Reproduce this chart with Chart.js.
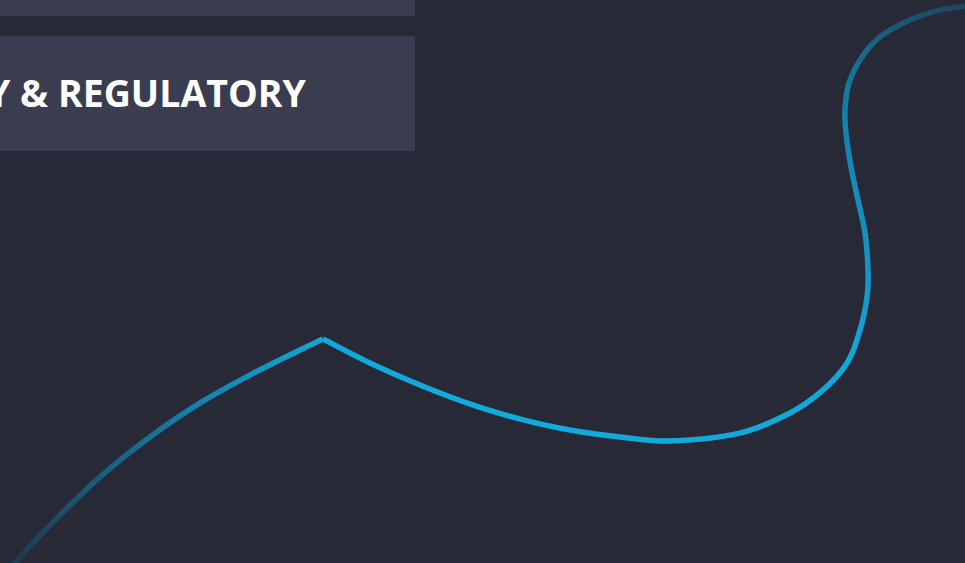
<!DOCTYPE html>
<html>
<head>
<meta charset="utf-8">
<script src="https://cdn.jsdelivr.net/npm/chart.js@4"></script>
<style>
  html, body { margin: 0; padding: 0; background: #272936; overflow: hidden; }
  #wrap { position: relative; width: 965px; height: 563px; }
  #chartBox { position: absolute; left: 0; top: 0; width: 965px; height: 563px; }
  .box { position: absolute; left: 0; width: 415px; background: #3a3c50; }
  #box1 { top: 0; height: 16px; }
  #box2 { top: 36px; height: 115px; }
  #label { position: absolute; right: 659px; top: 74px; white-space: nowrap;
    font-family: "Open Sans", sans-serif; font-weight: 700; font-size: 37.5px;
    line-height: 1; color: #ffffff; }
</style>
</head>
<body>
<div id="wrap">
  <div class="box" id="box1"></div>
  <div class="box" id="box2"></div>
  <div id="label">Y &amp; REGULATORY</div>
  <div id="chartBox"><canvas id="chart"></canvas></div>
</div>
<script>
// Left rising arc (bottom-left to the peak)
const leftX = [12, 50, 100, 150, 200, 250, 300, 323];
const leftY = [566, 525, 477, 437, 403, 375, 350, 339];
// Right wave (peak, valley, then up and curling to the top-right)
const rightX = [323, 370, 420, 470, 520, 570, 620, 670, 740, 790, 823, 847, 860, 867, 868, 865, 858, 851, 846, 845, 849, 862, 880, 910, 940, 966];
const rightY = [339, 363, 385, 404, 419, 430, 437, 441, 433, 413, 390, 363, 330, 297, 270, 233, 200, 167, 133, 110, 83, 57, 37, 20, 10, 6];

const toPts = (xs, ys) => xs.map((x, i) => ({ x: x, y: ys[i] }));

function gradStroke(context) {
  const chart = context.chart;
  const { ctx, chartArea, scales } = chart;
  if (!chartArea) return '#12a8d8';
  const cx = scales.x.getPixelForValue(585);
  const cy = scales.y.getPixelForValue(415);
  const g = ctx.createRadialGradient(cx, cy, 0, cx, cy, 600);
  g.addColorStop(0, 'rgba(18,170,220,1)');
  g.addColorStop(0.45, 'rgba(18,168,218,1)');
  g.addColorStop(0.7, 'rgba(22,128,170,0.9)');
  g.addColorStop(1, 'rgba(34,58,80,0.8)');
  return g;
}

const lineStyle = {
  tension: 0.34, cubicInterpolationMode: 'default', borderColor: gradStroke, borderWidth: 5.5,
  pointRadius: 0, borderJoinStyle: 'miter', borderCapStyle: 'butt', fill: false
};

new Chart(document.getElementById('chart'), {
  type: 'line',
  data: {
    datasets: [
      Object.assign({ label: 'left', data: toPts(leftX, leftY) }, lineStyle),
      Object.assign({ label: 'right', data: toPts(rightX, rightY) }, lineStyle)
    ]
  },
  options: {
    responsive: true,
    maintainAspectRatio: false,
    devicePixelRatio: 2,
    animation: false,
    layout: { padding: 0 },
    plugins: { legend: { display: false }, tooltip: { enabled: false } },
    scales: {
      x: { type: 'linear', min: 0, max: 965, display: false },
      y: { type: 'linear', min: 0, max: 563, reverse: true, display: false }
    }
  }
});
</script>
</body>
</html>
